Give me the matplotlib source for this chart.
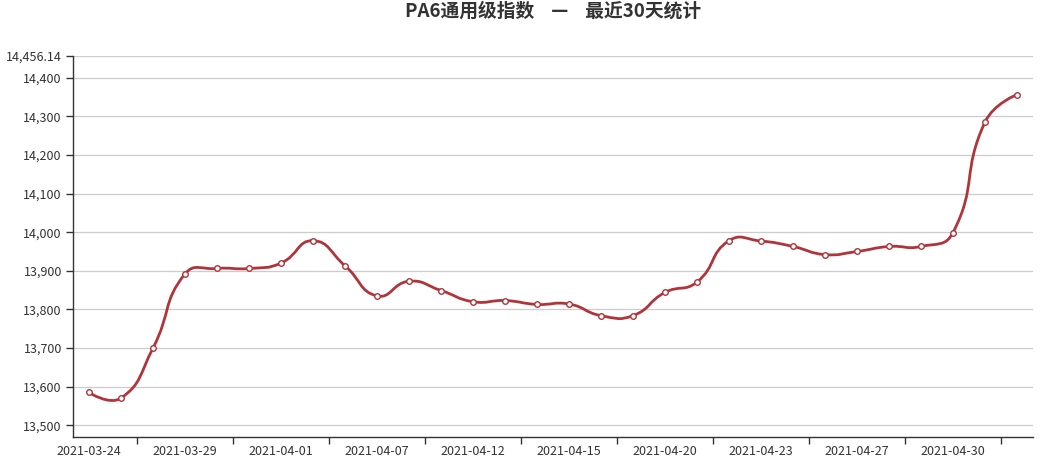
import matplotlib
matplotlib.use("Agg")
import matplotlib.pyplot as plt
from matplotlib.path import Path
from matplotlib.patches import PathPatch
import numpy as np

plt.rcParams['font.family'] = ['Noto Sans CJK SC', 'DejaVu Sans']

title = "PA6通用级指数    —    最近30天统计"
dates = ["2021-03-24", "2021-03-25", "2021-03-26", "2021-03-29", "2021-03-30",
         "2021-03-31", "2021-04-01", "2021-04-02", "2021-04-06", "2021-04-07",
         "2021-04-08", "2021-04-09", "2021-04-12", "2021-04-13", "2021-04-14",
         "2021-04-15", "2021-04-16", "2021-04-19", "2021-04-20", "2021-04-21",
         "2021-04-22", "2021-04-23", "2021-04-25", "2021-04-26", "2021-04-27",
         "2021-04-28", "2021-04-29", "2021-04-30", "2021-05-06", "2021-05-07"]
values = [13585, 13570.5, 13700, 13892, 13906, 13906, 13920, 13978, 13913, 13835,
          13873, 13849, 13820, 13823, 13813, 13814, 13784, 13784, 13844, 13871,
          13978, 13977, 13963, 13942, 13950, 13963, 13963, 13999, 14285, 14356.14]
y_ticks = [13500, 13600, 13700, 13800, 13900, 14000, 14100, 14200, 14300, 14400]

line_color = "#b0353b"
text_color = "#333333"

W, H = 1056, 465
fig = plt.figure(figsize=(W / 100, H / 100), dpi=100)
ax = fig.add_axes([73 / W, 1 - 436.7 / H, (1033 - 73) / W, (436.7 - 56) / H])

n = len(values)
x = np.arange(n)
ymin = min(values) - 100
ymax = max(values) + 100
ax.set_xlim(-0.5, n - 0.5)
ax.set_ylim(ymin, ymax)

# y axis ticks and grid
yt = y_ticks + [ymax]
ax.set_yticks(yt)
ax.set_yticklabels([f"{v:,.0f}" for v in y_ticks] + [f"{ymax:,.2f}"])
for v in yt:
    ax.axhline(v, color="#cccccc", lw=0.9, zorder=0)

# x axis: labels every 3rd category, ticks at category boundaries
label_idx = list(range(0, n, 3))
ax.set_xticks(label_idx)
ax.set_xticklabels([dates[i] for i in label_idx])
ax.tick_params(axis='x', which='major', length=0, pad=6, labelsize=9, colors=text_color)
ax.set_xticks([i + 1.5 for i in label_idx], minor=True)
ax.tick_params(axis='x', which='minor', length=5, width=1, color=text_color, direction='out')
ax.tick_params(axis='y', length=5, width=1, color=text_color, labelsize=9, labelcolor=text_color, pad=3)

for s in ['top', 'right']:
    ax.spines[s].set_visible(False)
ax.spines['left'].set_color(text_color)
ax.spines['bottom'].set_color(text_color)
ax.spines['left'].set_linewidth(1)
ax.spines['bottom'].set_linewidth(1)

# echarts-like smooth bezier computed in pixel space
pts = ax.transData.transform(np.column_stack([x, values]))
smooth = 0.5
verts = [tuple(pts[0])]
codes = [Path.MOVETO]
cp_after = [None] * n
cp_before = [None] * n
for i in range(n):
    p = pts[i]
    if i == 0 or i == n - 1:
        cp_after[i] = p
        cp_before[i] = p
        continue
    prev, nxt = pts[i - 1], pts[i + 1]
    v = nxt - prev
    d0 = np.hypot(*(p - prev))
    d1 = np.hypot(*(nxt - p))
    r = d1 / (d0 + d1)
    cp_after[i] = p + v * smooth * r
    cp_before[i] = p - v * smooth * (1 - r)
for i in range(n - 1):
    verts += [tuple(cp_after[i]), tuple(cp_before[i + 1]), tuple(pts[i + 1])]
    codes += [Path.CURVE4] * 3
inv = ax.transData.inverted()
verts_data = inv.transform(np.array(verts))
path = Path(verts_data, codes)
ax.add_patch(PathPatch(path, facecolor='none', edgecolor=line_color, lw=2, zorder=3))

ax.plot(x, values, linestyle='none', marker='o', markersize=4, markerfacecolor='white',
        markeredgecolor=line_color, markeredgewidth=1, zorder=4)

fig.text((73 + 1033) / 2 / W, 1 - 11 / H, title, ha='center', va='center',
         fontsize=13.5, fontweight='bold', color=text_color)

fig.savefig("out.png", dpi=100)
